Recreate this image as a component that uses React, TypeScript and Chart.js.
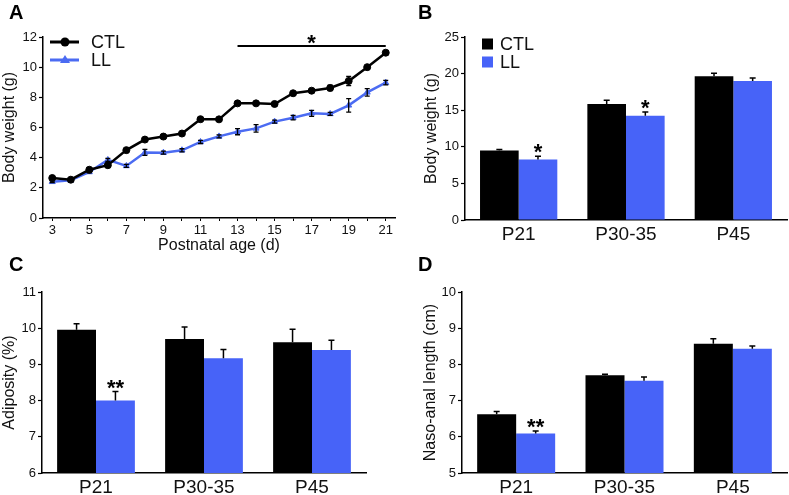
import React, { useEffect, useRef } from 'react';
import { Chart, registerables } from 'chart.js';

Chart.register(...registerables);

// ---------- data ----------
const ageDays = ['3', '4', '5', '6', '7', '8', '9', '10', '11', '12', '13', '14', '15', '16', '17', '18', '19', '20', '21'];
const ctlWeight = [2.65, 2.54, 3.2, 3.5, 4.5, 5.2, 5.4, 5.6, 6.55, 6.54, 7.6, 7.6, 7.56, 8.27, 8.44, 8.62, 9.08, 10.0, 10.96];
const ctlWeightErr = [0.08, 0.08, 0.1, 0.1, 0.1, 0.12, 0.1, 0.1, 0.1, 0.1, 0.1, 0.1, 0.1, 0.1, 0.1, 0.18, 0.3, 0.1, 0.1];
const llWeight = [2.4, 2.5, 3.05, 3.85, 3.45, 4.35, 4.33, 4.49, 5.04, 5.41, 5.72, 5.94, 6.39, 6.65, 6.94, 6.9, 7.47, 8.33, 8.97];
const llWeightErr = [0.05, 0.05, 0.05, 0.1, 0.1, 0.2, 0.1, 0.1, 0.1, 0.1, 0.2, 0.25, 0.1, 0.15, 0.2, 0.1, 0.45, 0.25, 0.15];
const sigFromDay = '13';
const sigToDay = '21';
const sigLevel = 11.4;

const groups = ['P21', 'P30-35', 'P45'];
const ctlBodyWeight = [9.5, 15.85, 19.65];
const ctlBodyWeightErr = [0.12, 0.5, 0.4];
const llBodyWeight = [8.25, 14.25, 19.0];
const llBodyWeightErr = [0.45, 0.5, 0.4];
const bodyWeightStars = ['*', '*', ''];

const ctlAdiposity = [9.96, 9.7, 9.61];
const ctlAdiposityErr = [0.16, 0.33, 0.36];
const llAdiposity = [8.0, 9.17, 9.4];
const llAdiposityErr = [0.25, 0.24, 0.27];
const adiposityStars = ['**', '', ''];

const ctlLength = [6.62, 7.7, 8.57];
const ctlLengthErr = [0.08, 0.03, 0.14];
const llLength = [6.09, 7.55, 8.43];
const llLengthErr = [0.07, 0.1, 0.08];
const lengthStars = ['**', '', ''];

// ---------- styles ----------
const FONT = "'Liberation Sans', Arial, Helvetica, sans-serif";
const BLACK = '#000000';
const BLUE = '#4763F8';
const LINE_BLUE = '#4B6BF2';
const TEXT = '#111111';

const errorBarPlugin = {
  id: 'errorBars',
  afterDatasetsDraw(chart: any) {
    const { ctx } = chart;
    const yScale = chart.scales.y;
    chart.data.datasets.forEach((ds: any, i: number) => {
      const errs = ds.errors;
      if (!errs) return;
      const meta = chart.getDatasetMeta(i);
      const both = !!ds.errorBoth;
      const cap = ds.capWidth ?? 3;
      ctx.save();
      ctx.strokeStyle = '#000';
      ctx.lineWidth = ds.errorWidth ?? 1.5;
      meta.data.forEach((el: any, j: number) => {
        const v = ds.data[j];
        const e = errs[j];
        const x = el.x;
        const yTop = yScale.getPixelForValue(v + e);
        const yBot = both ? yScale.getPixelForValue(v - e) : yScale.getPixelForValue(v);
        ctx.beginPath();
        ctx.moveTo(x, yTop);
        ctx.lineTo(x, yBot);
        ctx.moveTo(x - cap, yTop);
        ctx.lineTo(x + cap, yTop);
        if (both) {
          ctx.moveTo(x - cap, yBot);
          ctx.lineTo(x + cap, yBot);
        }
        ctx.stroke();
      });
      ctx.restore();
    });
  },
};

function makeDecor(spec: any) {
  return {
    id: 'decor',
    afterDraw(chart: any) {
      const { ctx } = chart;
      ctx.save();
      // panel letter
      ctx.fillStyle = '#000';
      ctx.font = `bold 20px ${FONT}`;
      ctx.textAlign = 'left';
      ctx.textBaseline = 'alphabetic';
      ctx.fillText(spec.letter, spec.letterX, spec.letterY);

      // legend
      if (spec.legend) {
        const lg = spec.legend;
        chart.data.datasets.forEach((ds: any, i: number) => {
          const y = lg.y + i * lg.gap;
          const color = ds.borderColor && lg.kind === 'line' ? ds.borderColor : ds.backgroundColor;
          if (lg.kind === 'line') {
            ctx.strokeStyle = color;
            ctx.lineWidth = 3;
            ctx.beginPath();
            ctx.moveTo(lg.x, y);
            ctx.lineTo(lg.x + 29, y);
            ctx.stroke();
            ctx.fillStyle = color;
            const cx = lg.x + 15;
            if (ds.pointStyle === 'triangle') {
              ctx.beginPath();
              ctx.moveTo(cx, y - 5);
              ctx.lineTo(cx + 5, y + 3);
              ctx.lineTo(cx - 5, y + 3);
              ctx.closePath();
              ctx.fill();
            } else {
              ctx.beginPath();
              ctx.arc(cx, y, 4.5, 0, Math.PI * 2);
              ctx.fill();
            }
            ctx.fillStyle = TEXT;
            ctx.font = `18px ${FONT}`;
            ctx.textBaseline = 'middle';
            ctx.fillText(ds.label, lg.x + 41, y + 1);
          } else {
            ctx.fillStyle = color;
            ctx.fillRect(lg.x, y - 5.5, 11, 11);
            ctx.fillStyle = TEXT;
            ctx.font = `18px ${FONT}`;
            ctx.textBaseline = 'middle';
            ctx.fillText(ds.label, lg.x + 18, y + 1);
          }
        });
      }

      // stars over bars
      if (spec.stars) {
        const ds = chart.data.datasets[spec.stars.datasetIndex];
        const meta = chart.getDatasetMeta(spec.stars.datasetIndex);
        const yScale = chart.scales.y;
        ctx.fillStyle = '#000';
        ctx.font = `bold 22px ${FONT}`;
        ctx.textAlign = 'center';
        ctx.textBaseline = 'alphabetic';
        spec.stars.marks.forEach((m: string, j: number) => {
          if (!m) return;
          const top = yScale.getPixelForValue(ds.data[j] + (ds.errors ? ds.errors[j] : 0));
          ctx.fillText(m, meta.data[j].x, top + 3);
        });
      }

      // significance line
      if (spec.sig) {
        const xScale = chart.scales.x;
        const yScale = chart.scales.y;
        const labels = chart.data.labels;
        const x1 = xScale.getPixelForValue(labels.indexOf(spec.sig.from));
        const x2 = xScale.getPixelForValue(labels.indexOf(spec.sig.to));
        const y = yScale.getPixelForValue(spec.sig.level);
        ctx.strokeStyle = '#000';
        ctx.lineWidth = 2;
        ctx.beginPath();
        ctx.moveTo(x1, y);
        ctx.lineTo(x2, y);
        ctx.stroke();
        ctx.fillStyle = '#000';
        ctx.font = `bold 22px ${FONT}`;
        ctx.textAlign = 'center';
        ctx.textBaseline = 'alphabetic';
        ctx.fillText(spec.sig.mark, (x1 + x2) / 2, y + 4);
      }
      ctx.restore();
    },
  };
}

function yAxis(min: number, max: number, step: number, title: string, width: number, titlePad: number) {
  return {
    min,
    max,
    grid: { drawOnChartArea: false, color: '#000', tickColor: '#000', tickLength: 4, tickWidth: 1.2 },
    border: { color: '#000', width: 1.5 },
    ticks: { stepSize: step, padding: 2, color: TEXT, font: { family: FONT, size: 13 } },
    title: { display: true, text: title, color: TEXT, font: { family: FONT, size: 16 }, padding: { top: titlePad, bottom: 0 } },
    afterFit: (s: any) => {
      s.width = width;
    },
  };
}

function barConfig(opts: any) {
  return {
    type: 'bar',
    data: {
      labels: groups,
      datasets: [
        { label: 'CTL', data: opts.ctl, errors: opts.ctlErr, capWidth: 3, backgroundColor: BLACK, borderWidth: 0, categoryPercentage: 0.72, barPercentage: 1.0 },
        { label: 'LL', data: opts.ll, errors: opts.llErr, capWidth: 3, backgroundColor: BLUE, borderWidth: 0, categoryPercentage: 0.72, barPercentage: 1.0 },
      ],
    },
    options: {
      responsive: false,
      animation: false,
      devicePixelRatio: 1,
      layout: { padding: opts.padding },
      plugins: { legend: { display: false }, tooltip: { enabled: false } },
      scales: {
        x: {
          grid: { drawOnChartArea: false, drawTicks: false, color: '#000' },
          border: { color: '#000', width: 1.5 },
          ticks: { padding: 3, color: TEXT, font: { family: FONT, size: 19 } },
          afterFit: (s: any) => {
            s.height = opts.xHeight;
          },
        },
        y: yAxis(opts.min, opts.max, opts.step, opts.title, opts.yWidth, opts.titlePad),
      },
    },
    plugins: [errorBarPlugin, makeDecor(opts.decor)],
  };
}

function configA() {
  return {
    type: 'line',
    data: {
      labels: ageDays,
      datasets: [
        {
          label: 'CTL', data: ctlWeight, errors: ctlWeightErr, errorBoth: true, capWidth: 2.5, errorWidth: 1.3,
          borderColor: BLACK, backgroundColor: BLACK, borderWidth: 2.5, pointStyle: 'circle', pointRadius: 3.5,
          pointBackgroundColor: BLACK, pointBorderColor: BLACK, pointBorderWidth: 1, tension: 0,
        },
        {
          label: 'LL', data: llWeight, errors: llWeightErr, errorBoth: true, capWidth: 2.5, errorWidth: 1.3,
          borderColor: LINE_BLUE, backgroundColor: LINE_BLUE, borderWidth: 2.5, pointStyle: 'triangle', pointRadius: 3.5,
          pointBackgroundColor: LINE_BLUE, pointBorderColor: LINE_BLUE, pointBorderWidth: 1, tension: 0,
        },
      ],
    },
    options: {
      responsive: false,
      animation: false,
      devicePixelRatio: 1,
      layout: { padding: { top: 37, right: 3, left: 0, bottom: 0 } },
      plugins: { legend: { display: false }, tooltip: { enabled: false } },
      scales: {
        x: {
          type: 'category',
          offset: true,
          grid: { drawOnChartArea: false, color: '#000', tickColor: '#000', tickLength: 3, tickWidth: 1 },
          border: { color: '#000', width: 1.5 },
          ticks: {
            autoSkip: false,
            maxRotation: 0,
            padding: 2,
            color: TEXT,
            font: { family: FONT, size: 13 },
            callback: (_v: any, i: number) => (Number(ageDays[i]) % 2 === 1 ? ageDays[i] : ''),
          },
          title: { display: true, text: 'Postnatal age (d)', color: TEXT, font: { family: FONT, size: 16 }, padding: 0 },
          afterFit: (s: any) => {
            s.height = 37;
          },
        },
        y: yAxis(0, 12, 2, 'Body weight (g)', 43, 0),
      },
    },
    plugins: [errorBarPlugin, makeDecor({
      letter: 'A', letterX: 9, letterY: 19,
      legend: { kind: 'line', x: 50, y: 42, gap: 18 },
      sig: { from: sigFromDay, to: sigToDay, level: sigLevel, mark: '*' },
    })],
  };
}

function configB() {
  return barConfig({
    ctl: ctlBodyWeight, ctlErr: ctlBodyWeightErr, ll: llBodyWeight, llErr: llBodyWeightErr,
    min: 0, max: 25, step: 5, title: 'Body weight (g)', yWidth: 65, titlePad: 22, xHeight: 30,
    padding: { top: 37, right: 2, left: 0, bottom: 0 },
    decor: { letter: 'B', letterX: 18, letterY: 19, legend: { kind: 'box', x: 82, y: 44, gap: 18 }, stars: { datasetIndex: 1, marks: bodyWeightStars } },
  });
}

function configC() {
  return barConfig({
    ctl: ctlAdiposity, ctlErr: ctlAdiposityErr, ll: llAdiposity, llErr: llAdiposityErr,
    min: 6, max: 11, step: 1, title: 'Adiposity (%)', yWidth: 42, titlePad: 0, xHeight: 22,
    padding: { top: 42, right: 34, left: 0, bottom: 0 },
    decor: { letter: 'C', letterX: 9, letterY: 21, stars: { datasetIndex: 1, marks: adiposityStars } },
  });
}

function configD() {
  return barConfig({
    ctl: ctlLength, ctlErr: ctlLengthErr, ll: llLength, llErr: llLengthErr,
    min: 5, max: 10, step: 1, title: 'Naso-anal length (cm)', yWidth: 62, titlePad: 21, xHeight: 22,
    padding: { top: 42, right: 2, left: 0, bottom: 0 },
    decor: { letter: 'D', letterX: 18, letterY: 21, stars: { datasetIndex: 1, marks: lengthStars } },
  });
}

function Panel({ left, top, width, height, make }: any) {
  const ref = useRef<HTMLCanvasElement | null>(null);
  useEffect(() => {
    if (!ref.current) return;
    const chart = new Chart(ref.current, make() as any);
    return () => chart.destroy();
  }, []);
  return (
    <div style={{ position: 'absolute', left, top, width, height }}>
      <canvas ref={ref} width={width} height={height} style={{ width, height, display: 'block' }} />
    </div>
  );
}

export default function App() {
  return (
    <div style={{ position: 'fixed', left: 0, top: 0, width: 789, height: 495, background: '#ffffff', overflow: 'hidden' }}>
      <Panel left={0} top={250} width={400} height={245} make={configC} />
      <Panel left={400} top={250} width={389} height={245} make={configD} />
      <Panel left={0} top={0} width={400} height={255} make={configA} />
      <Panel left={400} top={0} width={389} height={250} make={configB} />
    </div>
  );
}
